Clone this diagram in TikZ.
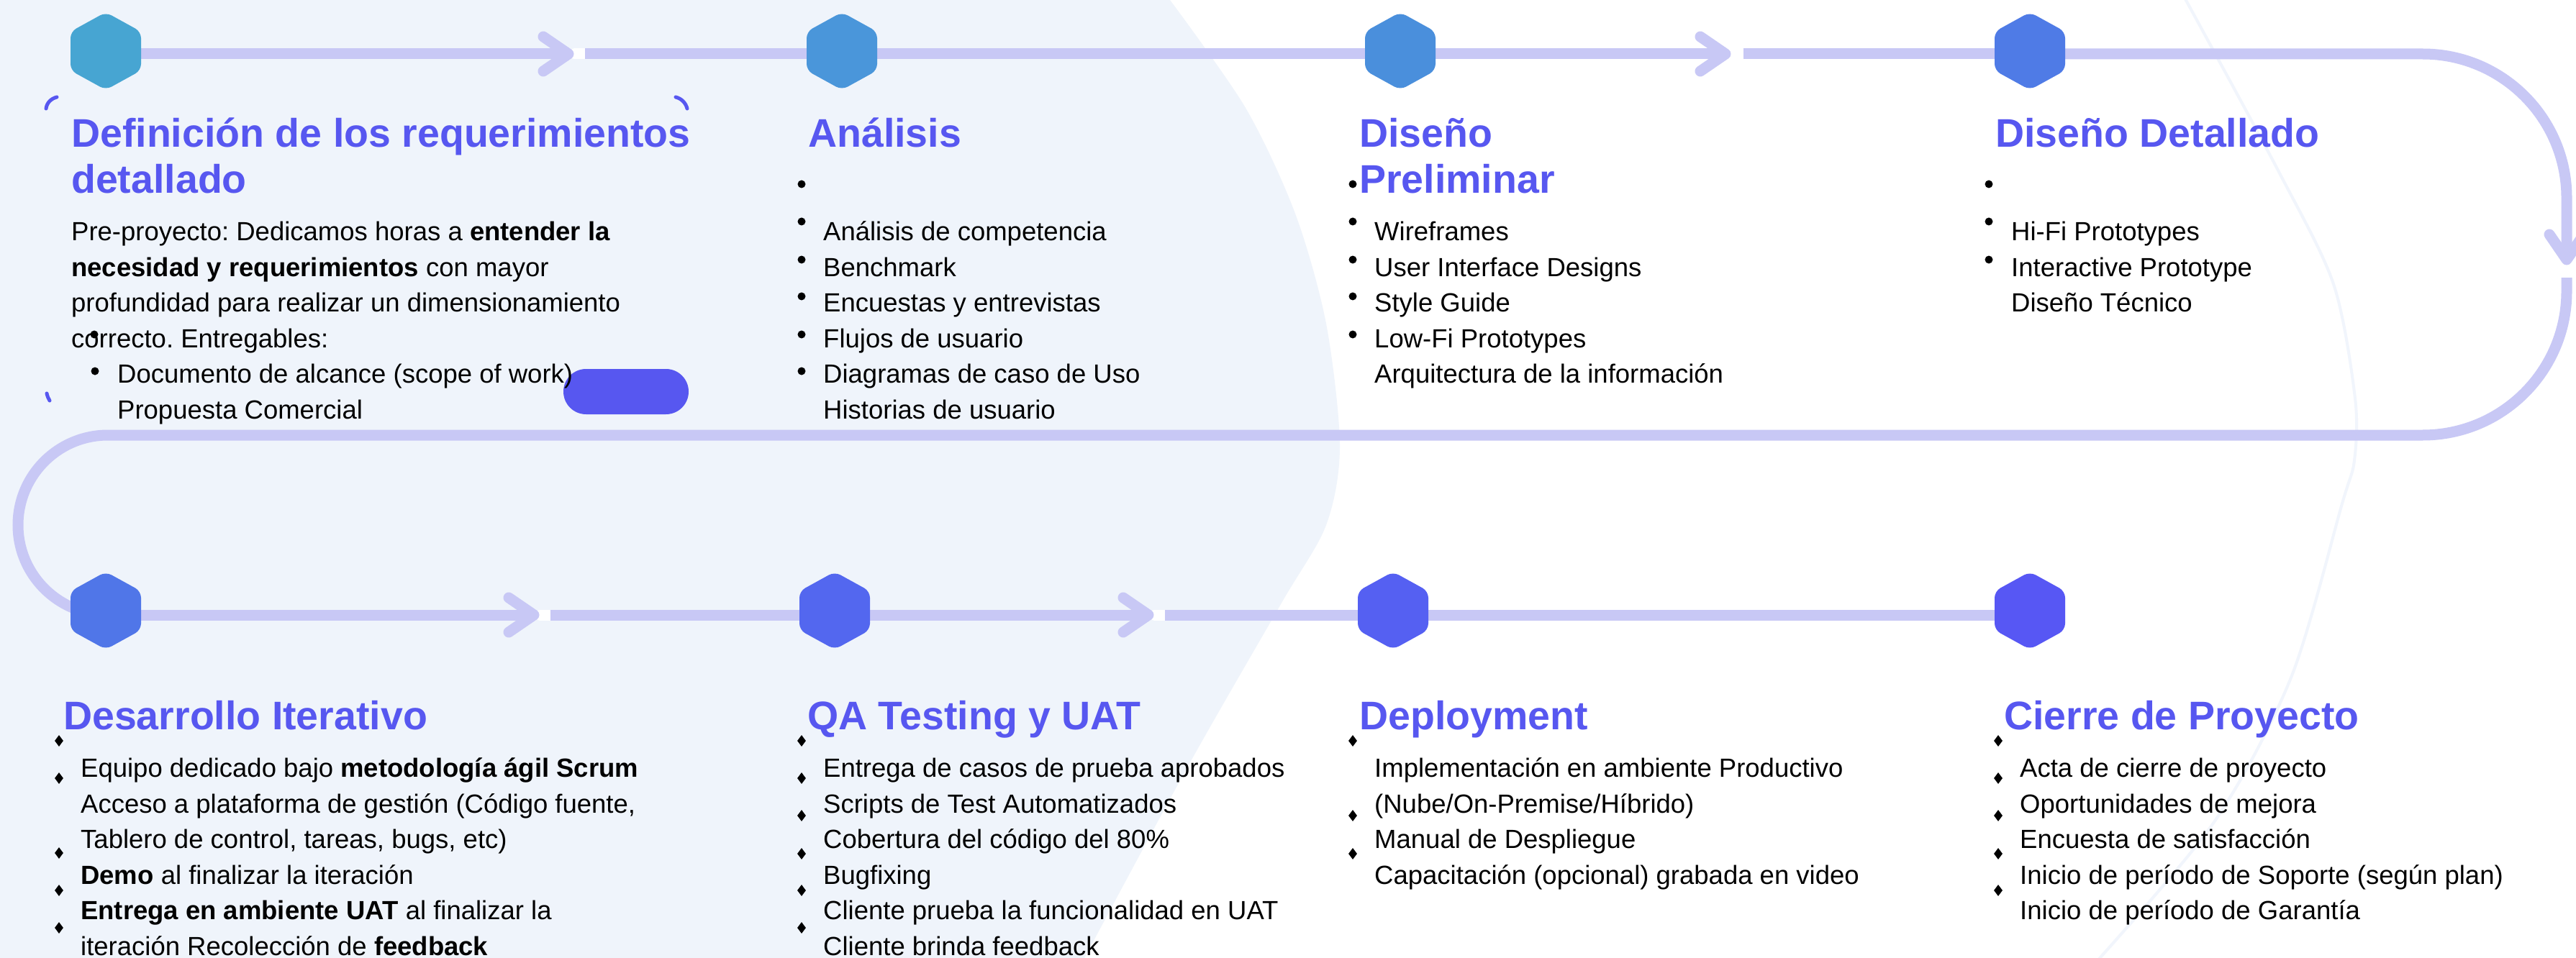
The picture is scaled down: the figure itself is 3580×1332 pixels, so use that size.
\documentclass[tikz,border=0pt]{standalone}
\usepackage{fontspec}
\setmainfont{Liberation Sans}
\usetikzlibrary{shapes.geometric}
\frenchspacing
\definecolor{lav}{HTML}{C8C8F5}
\definecolor{bgl}{HTML}{EFF4FB}
\definecolor{faint}{HTML}{F1F5FC}
\definecolor{ttlc}{HTML}{5757F0}
\definecolor{hxA}{HTML}{47A5D2}
\definecolor{hxB}{HTML}{4A96DA}
\definecolor{hxC}{HTML}{4A8FDC}
\definecolor{hxD}{HTML}{4F7BE6}
\definecolor{hxE}{HTML}{5076E8}
\definecolor{hxF}{HTML}{5367EF}
\definecolor{hxG}{HTML}{5560F2}
\definecolor{hxH}{HTML}{5757F4}
\newcommand\hexfill[2]{\fill[#2, rounded corners=9pt] (#1) +(0,-54) -- +(49,-27) -- +(49,27) -- +(0,54) -- +(-49,27) -- +(-49,-27) -- cycle;}
\tikzset{
  flow/.style={draw=lav, line width=15pt},
  chev/.style={draw=lav, line width=15pt, line cap=round, line join=round},
  halo/.style={draw=white, line width=15pt, line cap=round},
  hexnode/.style={circle, inner sep=0pt, minimum size=97pt},
  ttl/.style={anchor=base west, inner sep=0pt, text=ttlc, font=\fontsize{55.5}{64}\selectfont\bfseries},
  body/.style={anchor=base west, inner sep=0pt, text=black, font=\fontsize{36.5}{49.5}\selectfont\frenchspacing},
  dotb/.style={circle, fill=black, inner sep=0pt, minimum size=11pt},
  diab/.style={diamond, fill=black, inner sep=0pt, minimum width=12pt, minimum height=16pt},
  frm/.style={draw=ttlc, line width=5pt, line cap=round}
}
\begin{document}
\begin{tikzpicture}[x=1pt,y=-1pt]
\useasboundingbox (0,0) rectangle (3580,1332);
\fill[white] (0,0) rectangle (3580,1332);
\fill[bgl] (0,0) -- plot[smooth] coordinates {(1626,0) (1731,150) (1800,297) (1843,450) (1862,620) (1843,730) (1780,840) (1650,1067) (1507,1332)} -- (0,1332) -- cycle;
\draw[faint, line width=4pt] plot[smooth] coordinates {(3035,-5) (3166,237) (3243,395) (3273,554) (3272,640) (3255,700) (3184,942) (3077,1143) (2911,1340)};

% hexagon nodes
\node[hexnode] (h1) at (147,71) {};
\node[hexnode] (h2) at (1170,71) {};
\node[hexnode] (h3) at (1946,71) {};
\node[hexnode] (h4) at (2821,71) {};
\node[hexnode] (h5) at (147,849) {};
\node[hexnode] (h6) at (1160,849) {};
\node[hexnode] (h7) at (1936,849) {};
\node[hexnode] (h8) at (2821,849) {};

% arrow tips and restart points
\coordinate (t1) at (790,75);   \coordinate (r1) at (813,75);
\coordinate (t2) at (2398,75);  \coordinate (r2) at (2423,75);
\coordinate (t3) at (3567,361); \coordinate (r3) at (3567,386);
\coordinate (t4) at (742,855);  \coordinate (r4) at (765,855);
\coordinate (t5) at (1596,855); \coordinate (r5) at (1619,855);

\draw[halo] (t1) ++(9,0) -- (r1);
\draw[halo] (t2) ++(9,0) -- (r2);
\draw[halo] (t3) ++(0,9) -- (r3);
\draw[halo] (t4) ++(9,0) -- (r4);
\draw[halo] (t5) ++(9,0) -- (r5);

% flow lines
\draw[flow] ([yshift=-4pt]h1.east) -- (t1);
\draw[flow] (r1) -- ([yshift=-4pt]h2.west);
\draw[flow] ([yshift=-4pt]h2.east) -- ([yshift=-4pt]h3.west);
\draw[flow] ([yshift=-4pt]h3.east) -- (t2);
\draw[flow] (r2) -- ([yshift=-4pt]h4.west);
\draw[flow] ([yshift=-4pt]h4.east) -- (3367,75) arc[start angle=-90, end angle=0, radius=200] -- (t3);
\draw[flow] (r3) -- (3567,405) arc[start angle=0, end angle=90, radius=200] -- (150,605) arc[start angle=-90, end angle=-270, radius=125] -- ([yshift=-6pt]h5.center);
\draw[flow] ([yshift=-6pt]h5.east) -- (t4);
\draw[flow] (r4) -- ([yshift=-6pt]h6.west);
\draw[flow] ([yshift=-6pt]h6.east) -- (t5);
\draw[flow] (r5) -- ([yshift=-6pt]h7.west);
\draw[flow] ([yshift=-6pt]h7.east) -- ([yshift=-6pt]h8.west);

% chevrons
\draw[chev] (t1) ++(-35,-24) -- (t1) -- ++(-35,24);
\draw[chev] (t2) ++(-35,-24) -- (t2) -- ++(-35,24);
\draw[chev] (t4) ++(-35,-24) -- (t4) -- ++(-35,24);
\draw[chev] (t5) ++(-35,-24) -- (t5) -- ++(-35,24);
\draw[chev] (t3) ++(-24,-35) -- (t3) -- ++(24,-35);

% hexagons
\hexfill{h1}{hxA}
\hexfill{h2}{hxB}
\hexfill{h3}{hxC}
\hexfill{h4}{hxD}
\hexfill{h5}{hxE}
\hexfill{h6}{hxF}
\hexfill{h7}{hxG}
\hexfill{h8}{hxH}

% pill and frame marks
\node[fill=ttlc, rounded corners=31.5pt, minimum width=174pt, minimum height=63pt, inner sep=0pt] (pill) at (870,544.5) {};
\draw[frm] (64,151) .. controls (65,143) and (71,137) .. (79,135);
\draw[frm] (939,135) .. controls (947,137) and (953,143) .. (955,151);
\draw[frm] (65,547) .. controls (66,551) and (67,554) .. (69,557);

% titles
\node[ttl] (T1a) at (99,205) {Definición de los requerimientos};
\node[ttl] (T1b) at (99,269) {detallado};
\node[ttl] (T2) at (1123,205) {Análisis};
\node[ttl] (T3a) at (1889,205) {Diseño};
\node[ttl] (T3b) at (1889,269) {Preliminar};
\node[ttl] (T4) at (2773,205) {Diseño Detallado};
\node[ttl] (T5) at (88,1014) {Desarrollo Iterativo};
\node[ttl] (T6) at (1122,1014) {QA Testing y UAT};
\node[ttl] (T7) at (1889,1014) {Deployment};
\node[ttl] (T8) at (2785,1014) {Cierre de Proyecto};

% section 1
\node[body] (s1l1) at (99,334.5) {Pre-proyecto: Dedicamos horas a \textbf{entender la}};
\node[body] (s1l2) at (99,384) {\textbf{necesidad y requerimientos} con mayor};
\node[body] (s1l3) at (99,433.5) {profundidad para realizar un dimensionamiento};
\node[body] (s1l4) at (99,483) {correcto. Entregables:};
\node[body] (s1l5) at (163,532.5) {Documento de alcance (scope of work)};
\node[body] (s1l6) at (163,582) {Propuesta Comercial};
\node[dotb] (s1b1) at (131,465) {};
\node[dotb] (s1b2) at (132,516) {};

% section 2
\foreach \t [count=\i] in {Análisis de competencia, Benchmark, Encuestas y entrevistas, Flujos de usuario, Diagramas de caso de Uso, Historias de usuario}
  \node[body] (s2l\i) at (1144,{334.5+49.5*(\i-1)}) {\t};
\foreach \y [count=\i] in {256,308,361,412,465,516}
  \node[dotb] (s2b\i) at (1114,\y) {};

% section 3
\foreach \t [count=\i] in {Wireframes, User Interface Designs, Style Guide, Low-Fi Prototypes, Arquitectura de la información}
  \node[body] (s3l\i) at (1910,{334.5+49.5*(\i-1)}) {\t};
\foreach \y [count=\i] in {256,308,361,412,465}
  \node[dotb] (s3b\i) at (1880,\y) {};

% section 4
\foreach \t [count=\i] in {Hi-Fi Prototypes, Interactive Prototype, Diseño Técnico}
  \node[body] (s4l\i) at (2795,{334.5+49.5*(\i-1)}) {\t};
\foreach \y [count=\i] in {256,308,361}
  \node[dotb] (s4b\i) at (2764,\y) {};

% section 5
\node[body] (s5l1) at (112,1080.5) {Equipo dedicado bajo \textbf{metodología ágil Scrum}};
\node[body] (s5l2) at (112,1130) {Acceso a plataforma de gestión (Código fuente,};
\node[body] (s5l3) at (112,1179.5) {Tablero de control, tareas, bugs, etc)};
\node[body] (s5l4) at (112,1229) {\textbf{Demo} al finalizar la iteración};
\node[body] (s5l5) at (112,1278.5) {\textbf{Entrega en ambiente UAT} al finalizar la};
\node[body] (s5l6) at (112,1328) {iteración Recolección de \textbf{feedback}};
\foreach \y [count=\i] in {1030,1082,1186,1238,1290}
  \node[diab] (s5b\i) at (82,\y) {};

% section 6
\foreach \t [count=\i] in {Entrega de casos de prueba aprobados, Scripts de Test Automatizados, Cobertura del código del 80\%, Bugfixing, Cliente prueba la funcionalidad en UAT, Cliente brinda feedback}
  \node[body] (s6l\i) at (1144,{1080.5+49.5*(\i-1)}) {\t};
\foreach \y [count=\i] in {1030,1082,1134,1187,1238,1290}
  \node[diab] (s6b\i) at (1114,\y) {};

% section 7
\foreach \t [count=\i] in {Implementación en ambiente Productivo, (Nube/On-Premise/Híbrido), Manual de Despliegue, Capacitación (opcional) grabada en video}
  \node[body] (s7l\i) at (1910,{1080.5+49.5*(\i-1)}) {\t};
\foreach \y [count=\i] in {1030,1134,1187}
  \node[diab] (s7b\i) at (1880,\y) {};

% section 8
\foreach \t [count=\i] in {Acta de cierre de proyecto, Oportunidades de mejora, Encuesta de satisfacción, Inicio de período de Soporte (según plan), Inicio de período de Garantía}
  \node[body] (s8l\i) at (2807,{1080.5+49.5*(\i-1)}) {\t};
\foreach \y [count=\i] in {1030,1082,1134,1187,1238}
  \node[diab] (s8b\i) at (2777,\y) {};
\end{tikzpicture}
\end{document}
